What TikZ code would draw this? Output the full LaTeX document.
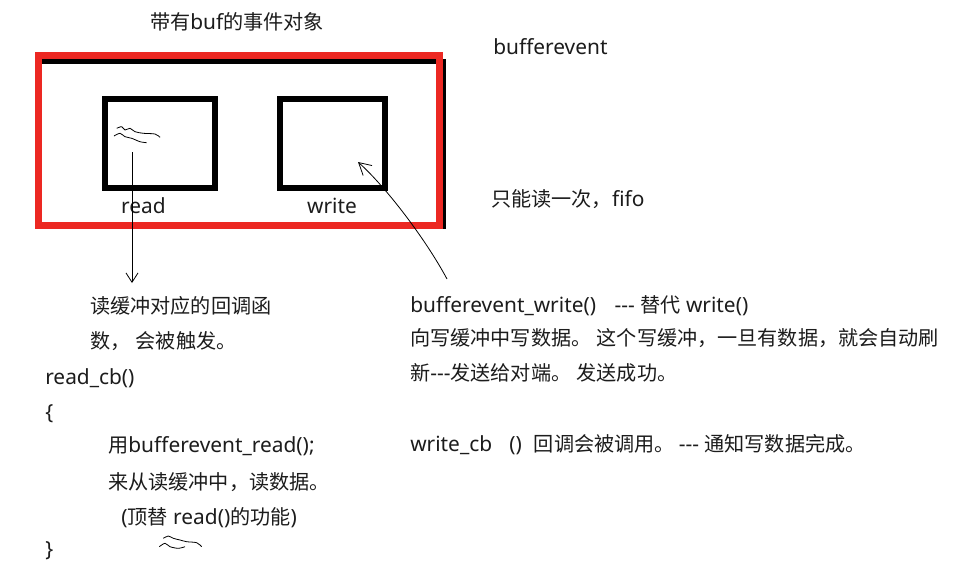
\documentclass[tikz,border=0pt]{standalone}
\usepackage{fontspec}
\setmainfont{Noto Sans}[Scale=1.037]
\newfontfamily\cjk{Noto Sans CJK SC}
\usepackage{xcolor}
\usetikzlibrary{arrows.meta,positioning}
\definecolor{framered}{RGB}{236,40,34}
\definecolor{inkgray}{RGB}{28,28,28}

\begin{document}
\begin{tikzpicture}[
                x=0.75pt, y=-0.75pt,
                every node/.style={inner sep=0pt, text=inkgray, font=\fontsize{15.1}{18}\selectfont},
                note/.style={anchor=base west},
                buf node/.style={draw=black, line width=4.5pt, minimum height=66.75pt},
                frame node/.style={draw=framered, line width=5.2pt, minimum width=300.75pt, minimum height=127.5pt},
                shadow node/.style={draw=black, line width=3.75pt, minimum width=304.1pt, minimum height=123.4pt},
                edge/.style={line width=0.6pt, -{Straight Barb[length=7pt,width=9pt]}},
                scribble/.style={line width=0.6pt, smooth}
            ]

            \fill[white] (0,0) rectangle (959,568);
            \useasboundingbox (0,0) rectangle (959,568);

            % Nodes
            \node (title) at (237,29) [anchor=base] {{\cjk 带有}buf{\cjk 的事件对象}};
            \node[shadow node] (shadow) at (240.75,143.75) {};
            \node[frame node] (frame) at (239,140.5) {};
            \node[buf node, minimum width=82.5pt] (readbuf) at (160,143.5) {};
            \node[buf node, minimum width=78.75pt] (writebuf) at (332.5,143.5) {};
            \node[anchor=base] (readlbl) at (143.5,213) {read};
            \node[anchor=base] (writelbl) at (332,213) {write};

            \node[note] (bufev) at (493,54) {bufferevent};
            \node[note] (fifo) at (491,206) {{\cjk 只能读一次，}fifo};

            \node[note] (readnote) at (90,313) {\cjk 读缓冲对应的回调函};
            \node[note] (readnote2) at (90,348) {\cjk 数，\hspace{4pt}会被触发。};
            \node[note] (readcb) at (45,384) {read\_cb()};
            \node[note] (lbrace) at (45,419) {\{};
            \node[note] (readcall) at (108,452) {{\cjk 用}bufferevent\_read();};
            \node[note] (readfrom) at (108,489) {\cjk 来从读缓冲中，读数据。};
            \node[note] (readrepl) at (121,524) {({\cjk 顶替} read(){\cjk 的功能})};
            \node[note] (rbrace) at (45,556) {\}};

            \node[note] (writecall) at (410,312) {bufferevent\_write()\hspace{14pt}-{}-{}- {\cjk 替代} write()};
            \node[note] (writenote) at (410,345) {\cjk 向写缓冲中写数据。\hspace{4pt}这个写缓冲，一旦有数据，就会自动刷};
            \node[note] (writenote2) at (410,380) {{\cjk 新}-{}-{}-{\cjk 发送给对端。\hspace{4pt}发送成功。}};
            \node[note] (writecb) at (410,451) {write\_cb\hspace{13pt}()\hspace{9pt}{\cjk 回调会被调用。}\hspace{3pt}-{}-{}- {\cjk 通知写数据完成。}};

            % Scribbles
            \draw[scribble] plot coordinates {(116.7,128.3) (121.7,126.7) (125,130) (130,128.3) (135,131.7) (143.3,133.3) (155,134) (160,137.3)};
            \draw[scribble] plot coordinates {(114,136) (120,133.3) (125,136.7) (131.7,138.3) (140,141.7) (146.7,142.7)};
            \draw[scribble] plot coordinates {(163.3,538.3) (168.3,536) (173.3,538.3) (180,540) (186.7,541.7) (196.7,542.7) (201.7,546.7)};
            \draw[scribble] plot coordinates {(159.3,546.7) (165,543.3) (170,546.7) (178.3,548.3) (185,546.7)};

            % Edges
            \coordinate (readsrc) at (132,152);
            \coordinate (readtip) at (132,283);
            \coordinate (writesrc) at (447,279);
            \coordinate (writetip) at (358,162);
            \draw[edge] (readsrc) -- (readtip);
            \draw[edge, -{Straight Barb[length=9pt,width=10pt]}] (writesrc) .. controls (425,238) and (385,186) .. (writetip);

            \end{tikzpicture}
\end{document}
